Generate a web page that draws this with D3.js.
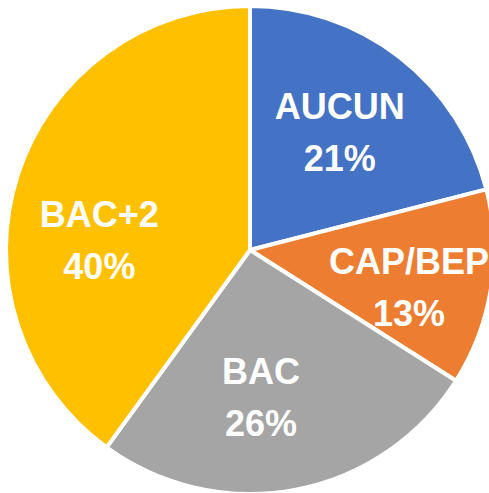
<!DOCTYPE html>
<html>
<head>
<meta charset="utf-8">
<script src="https://cdn.jsdelivr.net/npm/d3@7"></script>
<style>
body{margin:0;background:#fff;}
</style>
</head>
<body>
<script>
var categories=["AUCUN","CAP/BEP","BAC","BAC+2"]
var values=[21,13,26,40]
var colors=["#4472C4","#ED7D31","#A5A5A5","#FFC000"]
// label placement tweaks (Excel "best fit"): angle shift in degrees, radius
var labelShift=[-0.8,3.8,6.5,-14]
var labelRadius=[149,163,146,151]

var screen={width:489,height:493}
var cx=250,cy=250,radius=244

var svg=d3.select("body").append("svg")
          .attr("width",screen.width)
          .attr("height",screen.height)
var plot=svg.append("g")
            .attr("transform","translate("+cx+","+cy+")")

var pie=d3.pie().sort(null).value(function(d){return d})
var arcs=pie(values)
var arc=d3.arc().innerRadius(0).outerRadius(radius)

plot.selectAll("path")
    .data(arcs)
    .enter()
    .append("path")
    .attr("d",arc)
    .attr("fill",function(d,i){return colors[i]})
    .attr("stroke","#fff")
    .attr("stroke-width",4)
    .attr("stroke-linejoin","round")

var total=d3.sum(values)
var labels=plot.selectAll("g.label")
    .data(arcs)
    .enter()
    .append("g")
    .classed("label",true)
    .attr("transform",function(d,i){
      var a=(d.startAngle+d.endAngle)/2+labelShift[i]*Math.PI/180
      var r=labelRadius[i]
      return "translate("+(r*Math.sin(a))+","+(-r*Math.cos(a))+")"
    })
labels.append("text")
      .attr("text-anchor","middle")
      .attr("y",-12)
      .attr("fill","#fff")
      .attr("font-family","Liberation Sans, Arial, sans-serif")
      .attr("font-weight","bold")
      .attr("font-size","36px")
      .text(function(d,i){return categories[i]})
labels.append("text")
      .attr("text-anchor","middle")
      .attr("y",40)
      .attr("fill","#fff")
      .attr("font-family","Liberation Sans, Arial, sans-serif")
      .attr("font-weight","bold")
      .attr("font-size","36px")
      .text(function(d){return Math.round(d.data/total*100)+"%"})
</script>
</body>
</html>
